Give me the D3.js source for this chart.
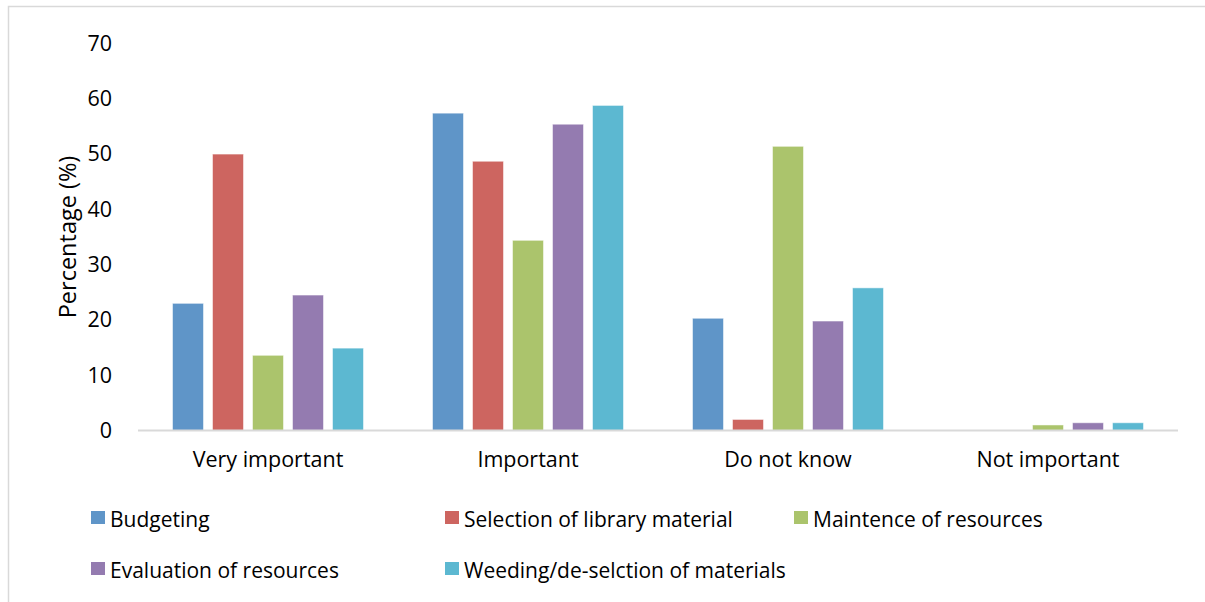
<!DOCTYPE html>
<html>
<head>
<meta charset="utf-8">
<script src="https://cdn.jsdelivr.net/npm/d3@7"></script>
<style>
  html, body { margin: 0; padding: 0; background: #fff; }
  svg { display: block; }
  text { font-family: "Open Sans", "Noto Sans", sans-serif; fill: #000; }
</style>
</head>
<body>
<svg id="chart" width="1205" height="602"></svg>
<script>
const categories = ["Very important", "Important", "Do not know", "Not important"];
const seriesNames = ["Budgeting", "Selection of library material", "Maintence of resources", "Evaluation of resources", "Weeding/de-selction of materials"];
const budgeting = [23.0, 57.4, 20.3, 0];
const selection = [50.0, 48.7, 2.0, 0];
const maintenance = [13.6, 34.4, 51.4, 1.0];
const evaluation = [24.5, 55.4, 19.8, 1.4];
const weeding = [14.9, 58.8, 25.8, 1.4];
const yTicks = [0, 10, 20, 30, 40, 50, 60, 70];
const colors = ["#5F95C8", "#CD6560", "#ABC46C", "#947BB0", "#5CB8D1"];

const seriesValues = [budgeting, selection, maintenance, evaluation, weeding];

const svg = d3.select("#chart");

// outer border
svg.append("rect")
  .attr("x", 8.5).attr("y", 6.5)
  .attr("width", 1220).attr("height", 620)
  .attr("fill", "none").attr("stroke", "#d9d9d9").attr("stroke-width", 1.5);

const plot = { left: 138, right: 1178, top: 43.5, bottom: 430.5 };

const x0 = d3.scaleBand().domain(categories).range([plot.left, plot.right]).paddingInner(0).paddingOuter(0);
const x1 = d3.scaleBand().domain(seriesNames).range([34.5, 260 - 34.5]).paddingInner(9 / 40).paddingOuter(0);
const y = d3.scaleLinear().domain([0, 70]).range([plot.bottom, plot.top]);

// bars
const groups = svg.append("g").selectAll("g")
  .data(categories)
  .join("g")
  .attr("transform", d => `translate(${x0(d)},0)`);

groups.selectAll("rect")
  .data((c, ci) => seriesNames.map((s, si) => ({ s, si, v: seriesValues[si][ci] })))
  .join("rect")
  .filter(d => d.v > 0)
  .attr("x", d => x1(d.s))
  .attr("y", d => y(d.v))
  .attr("width", x1.bandwidth())
  .attr("height", d => y(0) - y(d.v))
  .attr("fill", d => colors[d.si])
  .attr("stroke", "#ffffff")
  .attr("stroke-opacity", 0.5)
  .attr("stroke-width", 1);

// baseline
svg.append("line")
  .attr("x1", plot.left).attr("x2", plot.right)
  .attr("y1", y(0)).attr("y2", y(0))
  .attr("stroke", "#d9d9d9").attr("stroke-width", 2);

// y axis labels
const yAxis = d3.axisLeft(y).tickValues(yTicks).tickSize(0).tickPadding(0);
const yg = svg.append("g").attr("transform", "translate(112,0)").call(yAxis);
yg.select(".domain").remove();
yg.selectAll("text")
  .attr("font-size", 21.5)
  .attr("font-family", "'Open Sans', sans-serif")
  .attr("fill", "#000");

// x axis labels
const xAxis = d3.axisBottom(x0).tickSize(0).tickPadding(0);
const xg = svg.append("g").attr("transform", "translate(0,452)").call(xAxis);
xg.select(".domain").remove();
xg.selectAll("text")
  .attr("font-size", 21.5)
  .attr("font-family", "'Open Sans', sans-serif")
  .attr("fill", "#000")
  .attr("dy", "0.71em");

// y title
svg.append("text")
  .attr("transform", "translate(76,237) rotate(-90)")
  .attr("text-anchor", "middle")
  .attr("font-size", 23.5)
  .text("Percentage (%)");

// legend
const legendPos = [
  { x: 91, y: 511 }, { x: 445, y: 511 }, { x: 794, y: 511 },
  { x: 91, y: 562 }, { x: 445, y: 562 }
];
const lg = svg.append("g").selectAll("g")
  .data(seriesNames)
  .join("g")
  .attr("transform", (d, i) => `translate(${legendPos[i].x},${legendPos[i].y})`);
lg.append("rect")
  .attr("width", 14).attr("height", 13)
  .attr("fill", (d, i) => colors[i]);
lg.append("text")
  .attr("x", 19).attr("y", 15.5)
  .attr("font-size", 21)
  .text(d => d);
</script>
</body>
</html>
